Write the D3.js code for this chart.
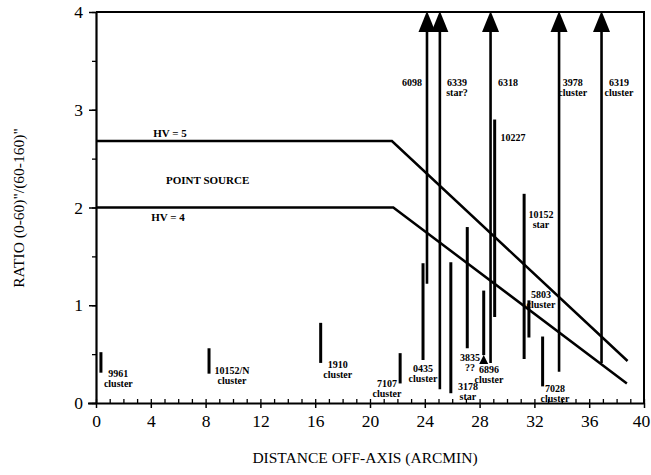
<!DOCTYPE html>
<html>
<head>
<meta charset="utf-8">
<script src="https://cdn.jsdelivr.net/npm/d3@7"></script>
<style>
  html, body { margin: 0; padding: 0; background: #fff; }
  svg { display: block; }
  text { font-family: "Liberation Serif", "DejaVu Serif", serif; fill: #000; }
</style>
</head>
<body>
<svg id="chart" width="651" height="475"></svg>
<script>
// ---------- data ----------
const xTicks = [0, 4, 8, 12, 16, 20, 24, 28, 32, 36, 40];
const yTicks = [0, 1, 2, 3, 4];

// measured ranges (vertical bars)
const barNames = ["9961", "10152/N", "1910", "7107", "0435", "3178", "3835", "6896", "10227", "10152", "5803", "7028"];
const barSub   = ["cluster", "cluster", "cluster", "cluster", "cluster", "star", "??", "cluster", "", "star", "cluster", "cluster"];
const barX     = [0.36, 8.25, 16.4, 22.2, 23.87, 25.9, 27.1, 28.3, 29.1, 31.25, 31.6, 32.6];
const barLow   = [0.31, 0.30, 0.41, 0.20, 0.44, 0.10, 0.56, 0.49, 0.88, 0.45, 0.67, 0.17];
const barHigh  = [0.52, 0.56, 0.82, 0.51, 1.43, 1.44, 1.80, 1.15, 2.90, 2.14, 1.05, 0.68];
// label anchors (data units: centre x, baseline y of first line)
const barLabX  = [1.63, 9.93, 17.65, 21.24, 23.87, 27.15, 27.3, 28.68, 30.43, 32.48, 32.48, 33.5];
const barLabY  = [0.27, 0.30, 0.36, 0.16, 0.32, 0.133, 0.43, 0.31, 2.68, 1.89, 1.07, 0.113];

// lower limits (arrows off the top of the plot)
const arrowNames = ["6098", "6339", "6318", "3978", "6319"];
const arrowSub   = ["", "star?", "", "cluster", "cluster"];
const arrowX     = [24.16, 25.1, 28.8, 33.8, 36.9];
const arrowLow   = [1.22, 0.14, 0.41, 0.32, 0.41];
const arrowLabX  = [23.07, 26.35, 30.07, 34.8, 38.17];
const arrowLabY  = [3.24, 3.24, 3.24, 3.24, 3.24];

// point-source threshold curves
const hv5X = [0, 21.6, 38.8];
const hv5Y = [2.68, 2.68, 0.43];
const hv4X = [0, 21.7, 38.75];
const hv4Y = [2.0, 2.0, 0.20];

// ---------- layout ----------
const svg = d3.select("#chart");
const L = 96, R = 644, T = 12, B = 403;
const x = d3.scaleLinear().domain([0, 40]).range([L, R]);
const y = d3.scaleLinear().domain([0, 4]).range([B, T]);

// frame (top and right)
svg.append("path")
  .attr("d", `M${x(0)},${y(4)}H${x(40)}V${y(0)}`)
  .attr("fill", "none").attr("stroke", "#000").attr("stroke-width", 2);

// x axis: minor inward, major outward
const xMinor = d3.range(0, 41, 1);
svg.append("g").attr("transform", `translate(0,${B})`)
  .call(d3.axisBottom(x).tickValues(xMinor).tickSize(-4).tickFormat("").tickSizeOuter(0))
  .call(g => g.select(".domain").remove())
  .call(g => g.selectAll("line").attr("stroke-width", 1.3));
const gx = svg.append("g").attr("transform", `translate(0,${B})`)
  .call(d3.axisBottom(x).tickValues(xTicks).tickFormat(d3.format("d")).tickSize(5).tickPadding(6).tickSizeOuter(0));
gx.select(".domain").attr("stroke-width", 2.2).attr("d", `M${L - 8},0.5H${R}`);
gx.selectAll("line").attr("stroke-width", 1.5);
gx.selectAll("text").attr("font-size", 17.5).attr("font-family", "Liberation Serif").attr("dy", "0.72em")
  .attr("dx", d => d === 40 ? -3 : 0);

// y axis
const yMinor = d3.range(0, 4.01, 0.5);
svg.append("g").attr("transform", `translate(${L},0)`)
  .call(d3.axisLeft(y).tickValues(yMinor).tickSize(4).tickFormat("").tickSizeOuter(0))
  .call(g => g.select(".domain").remove())
  .call(g => g.selectAll("line").attr("stroke-width", 1.3));
const gy = svg.append("g").attr("transform", `translate(${L},0)`)
  .call(d3.axisLeft(y).tickValues(yTicks).tickFormat(d3.format("d")).tickSize(7).tickPadding(6).tickSizeOuter(0));
gy.select(".domain").attr("stroke-width", 2.2);
gy.selectAll("line").attr("stroke-width", 1.5);
gy.selectAll("text").attr("font-size", 17.5).attr("font-family", "Liberation Serif");

// axis titles
svg.append("text").attr("x", 365).attr("y", 463).attr("text-anchor", "middle")
  .attr("font-size", 15.5).text("DISTANCE OFF-AXIS (ARCMIN)");
svg.append("text").attr("transform", `translate(24,${208}) rotate(-90)`)
  .attr("text-anchor", "middle").attr("font-size", 15.5).text("RATIO (0-60)\"/(60-160)\"");

// threshold curves
const line = d3.line().x(d => x(d[0])).y(d => y(d[1]));
[[hv5X, hv5Y], [hv4X, hv4Y]].forEach(([xs, ys]) => {
  svg.append("path").datum(xs.map((v, i) => [v, ys[i]]))
    .attr("d", line).attr("fill", "none").attr("stroke", "#000")
    .attr("stroke-width", 2.5).attr("stroke-linejoin", "miter");
});
svg.append("text").attr("x", x(5.4)).attr("y", y(2.72)).attr("text-anchor", "middle")
  .attr("font-size", 11).attr("font-weight", "bold").text("HV = 5");
svg.append("text").attr("x", x(5.25)).attr("y", y(1.86)).attr("text-anchor", "middle")
  .attr("font-size", 11).attr("font-weight", "bold").text("HV = 4");
svg.append("text").attr("x", x(8.15)).attr("y", y(2.24)).attr("text-anchor", "middle")
  .attr("font-size", 11).attr("font-weight", "bold").text("POINT SOURCE");

// bars
const bars = barNames.map((n, i) => ({ n, s: barSub[i], x: barX[i], lo: barLow[i], hi: barHigh[i], lx: barLabX[i], ly: barLabY[i] }));
svg.append("g").selectAll("line").data(bars).join("line")
  .attr("x1", d => x(d.x)).attr("x2", d => x(d.x))
  .attr("y1", d => y(d.lo)).attr("y2", d => y(d.hi))
  .attr("stroke", "#000").attr("stroke-width", 3);

// small upward marker at bottom of 6896
const m = bars.find(d => d.n === "6896");
svg.append("path")
  .attr("d", `M${x(m.x)},${y(m.lo)}l4.5,9h-9z`).attr("fill", "#000");

// arrows
const arrows = arrowNames.map((n, i) => ({ n, s: arrowSub[i], x: arrowX[i], lo: arrowLow[i], lx: arrowLabX[i], ly: arrowLabY[i] }));
const ag = svg.append("g");
ag.selectAll("line").data(arrows).join("line")
  .attr("x1", d => x(d.x)).attr("x2", d => x(d.x))
  .attr("y1", d => y(d.lo)).attr("y2", d => y(4) + 15)
  .attr("stroke", "#000").attr("stroke-width", 2.6);
ag.selectAll("path").data(arrows).join("path")
  .attr("d", d => `M${x(d.x)},${y(4) - 1}l8.5,21h-17z`).attr("fill", "#000");

// labels
const labs = bars.concat(arrows);
const lg = svg.append("g").attr("font-size", 10).attr("font-weight", "bold").attr("text-anchor", "middle");
labs.forEach(d => {
  const t = lg.append("text").attr("x", x(d.lx)).attr("y", y(d.ly));
  t.append("tspan").attr("x", x(d.lx)).text(d.n);
  if (d.s) t.append("tspan").attr("x", x(d.lx)).attr("dy", 10).text(d.s);
});
</script>
</body>
</html>
